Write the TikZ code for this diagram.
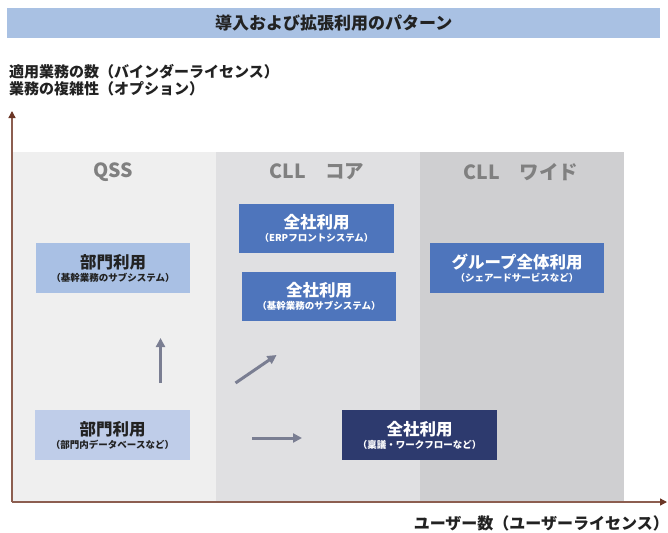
\documentclass[tikz,border=0pt]{standalone}
\usepackage{fontspec}
\setmainfont{Noto Sans CJK JP}
\usetikzlibrary{arrows.meta}
\definecolor{titlebar}{HTML}{A9C1E3}
\definecolor{colA}{HTML}{EFEFEF}
\definecolor{colB}{HTML}{E0E0E2}
\definecolor{colC}{HTML}{CFCFD1}
\definecolor{lightbox}{HTML}{A9C0E4}
\definecolor{paleBox}{HTML}{BFCDE9}
\definecolor{midbox}{HTML}{4E75BC}
\definecolor{darkbox}{HTML}{2D3A6E}
\definecolor{arrowgray}{HTML}{7A7E92}
\definecolor{axiscol}{HTML}{8C5E50}
\definecolor{axistip}{HTML}{6B3626}
\definecolor{headgray}{HTML}{808080}
\definecolor{ink}{HTML}{222222}
\newcommand{\mainline}[1]{{\fontsize{16.5}{19}\selectfont\bfseries #1}}
\newcommand{\subline}[1]{{\fontsize{9.5}{11}\selectfont\bfseries #1}}
\begin{document}
\begin{tikzpicture}[x=1pt,y=-1pt,
  box/.style={inner sep=0pt, align=center, anchor=center},
  hdr/.style={text=headgray, font=\fontsize{19.5}{22}\selectfont\bfseries},
  axisline/.style={draw=axiscol, line width=1.3pt, -{Triangle[length=7pt,width=7pt,fill=axistip,color=axistip]}},
  flow/.style={draw=arrowgray, line width=3pt, -{Triangle[length=9pt,width=9pt]}},
]
\useasboundingbox (0,0) rectangle (668,532);
\fill[white] (0,0) rectangle (668,532);
% title bar
\node[fill=titlebar, minimum width=653pt, minimum height=30pt, anchor=north west, inner sep=0pt,
  font=\fontsize{17}{20}\selectfont\bfseries, text=ink] (title) at (7,8) {導入および拡張利用のパターン};
% axis labels
\node[anchor=west, align=left, inner sep=0pt, font=\fontsize{15}{17}\selectfont\bfseries, text=ink] (ylab) at (9,80.5)
  {適用業務の数（バインダーライセンス）\\業務の複雑性（オプション）};
\node[anchor=east, inner sep=0pt, font=\fontsize{16}{18}\selectfont\bfseries, text=ink] (xlab) at (669,523)
  {ユーザー数（ユーザーライセンス）};
% columns
\fill[colA] (13,152) rectangle (216,501);
\fill[colB] (216,152) rectangle (420,501);
\fill[colC] (420,152) rectangle (624,501);
\node[hdr] (h1) at (113,172) {QSS};
\node[hdr] (h2) at (317,172) {CLL　コア};
\node[hdr] (h3) at (521,172) {CLL　ワイド};
% axes
\coordinate (origin) at (12,502);
\coordinate (ytip) at (12,111);
\coordinate (xtip) at (667,502);
\draw[axisline] (origin) -- (ytip);
\draw[axisline] (origin) -- (xtip);
% boxes
\node[box, fill=lightbox, minimum width=154pt, minimum height=50pt, text=ink] (b1) at (113,268)
  {\mainline{部門利用}\\[1pt]\subline{（基幹業務のサブシステム）}};
\node[box, fill=midbox, minimum width=155pt, minimum height=49pt, text=white] (b2) at (316.5,228.5)
  {\mainline{全社利用}\\[1pt]\subline{（ERPフロントシステム）}};
\node[box, fill=midbox, minimum width=154pt, minimum height=49pt, text=white] (b3) at (319,296.5)
  {\mainline{全社利用}\\[1pt]\subline{（基幹業務のサブシステム）}};
\node[box, fill=midbox, minimum width=174pt, minimum height=50pt, text=white] (b4) at (517,268)
  {\mainline{グループ全体利用}\\[1pt]\subline{（シェアードサービスなど）}};
\node[box, fill=paleBox, minimum width=155pt, minimum height=50pt, text=ink] (b5) at (112.5,435)
  {\mainline{部門利用}\\[1pt]\subline{（部門内データベースなど）}};
\node[box, fill=darkbox, minimum width=155pt, minimum height=50pt, text=white] (b6) at (419.5,435)
  {\mainline{全社利用}\\[1pt]\subline{（稟議・ワークフローなど）}};
% flow arrows
\coordinate (a1s) at (160.5,383);
\coordinate (a1e) at (160.5,338);
\coordinate (a2s) at (235.5,383);
\coordinate (a2e) at (276.5,355);
\coordinate (a3s) at (252,438);
\coordinate (a3e) at (302,438);
\draw[flow] (a1s) -- (a1e);
\draw[flow] (a2s) -- (a2e);
\draw[flow] (a3s) -- (a3e);
\end{tikzpicture}
\end{document}
